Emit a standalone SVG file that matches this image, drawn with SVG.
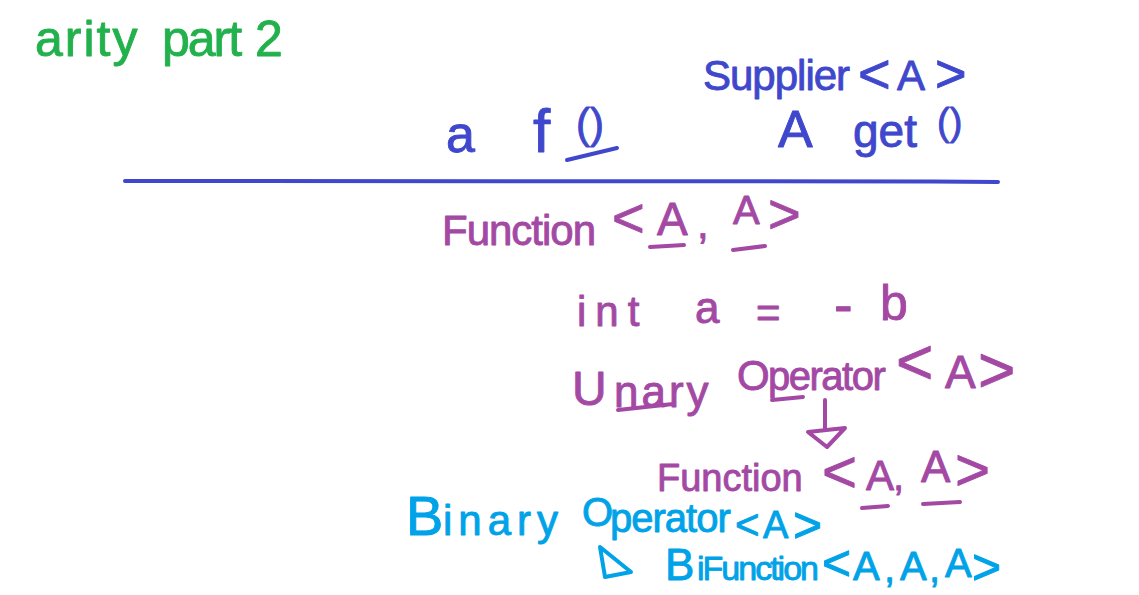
<svg xmlns="http://www.w3.org/2000/svg" width="1139" height="595" viewBox="0 0 1139 595">
<style>
svg{font-size:42px}
text{font-family:"Liberation Sans",Arial,sans-serif;stroke-width:0.9;stroke-linejoin:round}
.g{fill:#22b14c;stroke:#22b14c}.b{fill:#3f48cc;stroke:#3f48cc}.p{fill:#a349a4;stroke:#a349a4}.c{fill:#00a2e8;stroke:#00a2e8}
.s{fill:none;stroke-width:4;stroke-linecap:round;stroke-linejoin:round}
.sb{stroke:#3f48cc}.sp{stroke:#a349a4}.sc{stroke:#00a2e8}
</style>
<rect width="1139" height="595" fill="#ffffff"/>
<g id="title">
<text class="g" y="56" font-size="50"><tspan x="35" letter-spacing="2">arity </tspan><tspan x="162" letter-spacing="-2">part </tspan><tspan x="255">2</tspan></text>
</g>
<g id="af">
<text class="b" y="152" font-size="52"><tspan x="446">a </tspan><tspan x="533" font-size="62">f</tspan><tspan x="576" y="138" font-size="42">()</tspan></text>
<path class="s sb" d="M567 160 L617 148"/>
</g>
<g id="supplier">
<text class="b" y="90" font-size="42"><tspan x="703" letter-spacing="-1">Supplier</tspan><tspan x="858" y="93" font-size="56">&lt;</tspan><tspan x="897" y="90">A</tspan><tspan x="935" y="92" font-size="54">&gt;</tspan></text>
<text class="b" y="147" font-size="42"><tspan x="778" font-size="52">A </tspan><tspan x="853" font-size="46">get</tspan><tspan x="937" y="135" font-size="38">()</tspan></text>
</g>
<g id="divider">
<path class="s sb" d="M125 181 C 400 184, 700 179, 998 182"/>
</g>
<g id="function1">
<text class="p" y="245" font-size="42"><tspan x="442" letter-spacing="-1">Function</tspan><tspan x="612" y="237" font-size="56">&lt;</tspan><tspan x="657" y="235" font-size="46">A</tspan><tspan x="697" y="238">, </tspan><tspan x="733" y="224" font-size="40">A</tspan><tspan x="768" y="233" font-size="56">&gt;</tspan></text>
<path class="s sp" d="M650 247 L684 245"/>
<path class="s sp" d="M733 250 L765 246"/>
</g>
<g id="intline">
<text class="p" y="326" font-size="42"><tspan x="577" letter-spacing="9">int </tspan><tspan x="695" y="323" font-size="44">a </tspan><tspan x="756" y="327">= </tspan><tspan x="834" y="324" font-size="56">-</tspan><tspan x="880" y="320" font-size="50">b</tspan></text>
</g>
<g id="unary">
<text class="p" y="405" font-size="42"><tspan x="572" font-size="48">U</tspan><tspan x="614" y="407" font-size="44" letter-spacing="3">nary</tspan><tspan x="737" y="390">O</tspan><tspan x="768" y="390" font-size="40" letter-spacing="-1.5">perator</tspan><tspan x="896" y="384" font-size="64">&lt;</tspan><tspan x="945" y="388" font-size="46">A</tspan><tspan x="978" y="392" font-size="64">&gt;</tspan></text>
<path class="s sp" d="M618 410 L673 404"/>
<path class="s sp" d="M772 400 L803 397"/>
</g>
<g id="function2">
<text class="p" y="491" font-size="42"><tspan x="657" font-size="38">Function</tspan><tspan x="822" y="492" font-size="60">&lt;</tspan><tspan x="866" y="490">A</tspan><tspan x="893" y="490" font-size="40">, </tspan><tspan x="921" y="482" font-size="44">A</tspan><tspan x="955" y="490" font-size="60">&gt;</tspan></text>
<path class="s sp" d="M862 508 L888 506"/>
<path class="s sp" d="M923 504 L960 502"/>
</g>
<g id="binary">
<text class="c" y="535" font-size="42"><tspan x="406" font-size="56">B</tspan><tspan x="443" letter-spacing="6">inary</tspan><tspan x="582" y="526" font-size="40">O</tspan><tspan x="610" y="532" font-size="40" letter-spacing="-1">perator</tspan><tspan x="735" y="539" font-size="42">&lt;</tspan><tspan x="763" y="538" font-size="38">A</tspan><tspan x="793" y="542" font-size="50">&gt;</tspan></text>
</g>
<g id="bifunction">
<text class="c" y="580" font-size="42"><tspan x="665" font-size="44">B</tspan><tspan x="697" font-size="34" letter-spacing="-2">iFunction</tspan><tspan x="822" font-size="50">&lt;</tspan><tspan x="853" font-size="40">A</tspan><tspan x="884" y="582" font-size="40">,</tspan><tspan x="900" y="580" font-size="40">A</tspan><tspan x="929" y="582" font-size="40">,</tspan><tspan x="945" y="577" font-size="40">A</tspan><tspan x="972" y="584" font-size="50">&gt;</tspan></text>
</g>
<g id="connectors">
<path class="s sp" d="M825 400 L825 428"/>
<path class="s sp" d="M808 432 L845 428 L827 447 Z"/>
<path class="s sc" d="M600 547 L631 572 L605 577 Z"/>
</g>
</svg>
